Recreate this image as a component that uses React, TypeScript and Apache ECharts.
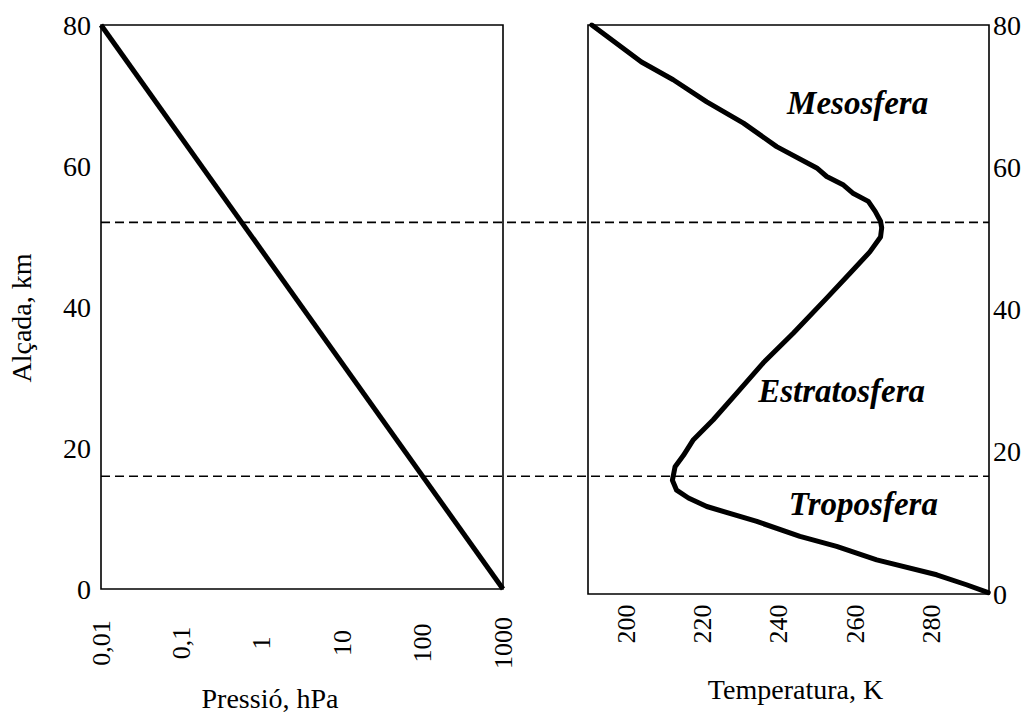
import React, { useEffect, useRef } from "react";
import * as echarts from "echarts";

// Pressure (hPa) vs altitude (km)
const pressureLine: [number, number][] = [
  [0.01, 80],
  [1000, 0],
];

// Temperature (K) vs altitude (km)
const temperatureProfile: [number, number][] = [
  [191, 80], [204, 74.8], [212.3, 72.3], [221.1, 69.2], [230.7, 66.2], [239.4, 62.9],
  [249.9, 59.9], [252.5, 58.7], [256.9, 57.5], [259.5, 56.3], [263.4, 55.2], [265.2, 53.8],
  [266.6, 52.4], [266.9, 51.5], [266.6, 50.2], [263.8, 48.1], [258.6, 45.1], [252.5, 41.6],
  [243.8, 36.7], [235.9, 32.5], [228.9, 28.2], [222.8, 24.5], [217.6, 21.7], [215, 19.5],
  [212.8, 17.9], [212.1, 16], [213.2, 14.6], [216.3, 13.5], [221.1, 12.3], [234.2, 10.2],
  [245.5, 8.1], [255.1, 6.7], [265.6, 4.8], [281.3, 2.7], [289.1, 1.3], [294.8, 0.2],
];

// Layer boundaries (km)
const boundaryAltitudes = [52.0, 16.0];

// Layer names and their anchor (T, altitude)
const layerNames = ["Mesosfera", "Estratosfera", "Troposfera"];
const layerAnchors: [number, number][] = [
  [260.6, 69.1],
  [256.4, 28.5],
  [262.1, 12.6],
];

const tempTicks = [200, 220, 240, 260, 280];
const altitudeMin = 0;
const altitudeMax = 80;
const altitudeStep = 20;
const pressureMin = 0.01;
const pressureMax = 1000;
const tempMin = 190;
const tempMax = 295;

const FONT = "'Liberation Serif', 'Times New Roman', 'DejaVu Serif', serif";

export default function App() {
  const ref = useRef<HTMLDivElement>(null);

  useEffect(() => {
    if (!ref.current) return;
    const chart = echarts.init(ref.current, undefined, { renderer: "svg" });

    const gridCommon = {
      show: true,
      borderColor: "#000",
      borderWidth: 1.6,
      backgroundColor: "transparent",
      containLabel: false,
    };

    const yAxisCommon = {
      type: "value" as const,
      min: altitudeMin,
      max: altitudeMax,
      interval: altitudeStep,
      splitLine: { show: false },
      axisTick: { show: false },
      axisLine: { show: false },
    };

    chart.setOption({
      animation: false,
      textStyle: { fontFamily: FONT, color: "#000" },
      grid: [
        { ...gridCommon, left: 101, right: 522, top: 25, bottom: 123 },
        { ...gridCommon, left: 588, right: 36, top: 25, bottom: 123 },
      ],
      xAxis: [
        {
          type: "log",
          gridIndex: 0,
          logBase: 10,
          min: pressureMin,
          max: pressureMax,
          splitLine: { show: false },
          axisTick: { show: false },
          axisLine: { show: false },
          axisLabel: {
            rotate: 90,
            align: "center",
            verticalAlign: "middle",
            margin: 54,
            fontSize: 26,
            fontFamily: FONT,
            color: "#000",
            formatter: (v: number) => String(Number(v.toPrecision(6))).replace(".", ","),
          },
          name: "Pressió, hPa",
          nameLocation: "middle",
          nameGap: 95,
          nameTextStyle: { fontSize: 28, fontFamily: FONT, color: "#000", padding: [0, 64, 0, 0] },
        },
        {
          type: "value",
          gridIndex: 1,
          min: tempMin,
          max: tempMax,
          splitLine: { show: false },
          axisTick: { show: false },
          axisLine: { show: false },
          axisLabel: {
            customValues: tempTicks,
            rotate: 90,
            align: "center",
            verticalAlign: "middle",
            margin: 30,
            fontSize: 26,
            fontFamily: FONT,
            color: "#000",
          },
          name: "Temperatura, K",
          nameLocation: "middle",
          nameGap: 81,
          nameTextStyle: { fontSize: 28, fontFamily: FONT, color: "#000", padding: [0, 0, 0, 14] },
        },
      ],
      yAxis: [
        {
          ...yAxisCommon,
          gridIndex: 0,
          position: "left",
          axisLabel: { margin: 10, fontSize: 28, fontFamily: FONT, color: "#000" },
          name: "Alçada, km",
          nameLocation: "middle",
          nameGap: 66,
          nameTextStyle: { fontSize: 28, fontFamily: FONT, color: "#000", padding: [0, 22, 0, 0] },
        },
        {
          ...yAxisCommon,
          gridIndex: 1,
          position: "right",
          axisLabel: { margin: 4, fontSize: 28, fontFamily: FONT, color: "#000" },
        },
      ],
      series: [
        {
          type: "line",
          xAxisIndex: 0,
          yAxisIndex: 0,
          data: pressureLine,
          showSymbol: false,
          symbol: "none",
          lineStyle: { color: "#000", width: 5 },
        },
        {
          type: "line",
          xAxisIndex: 1,
          yAxisIndex: 1,
          data: temperatureProfile,
          showSymbol: false,
          symbol: "none",
          lineStyle: { color: "#000", width: 5, join: "round", cap: "round" },
        },
      ],
    });

    const xLeft = chart.convertToPixel({ xAxisIndex: 0 }, pressureMin) as number;
    const xRight = chart.convertToPixel({ xAxisIndex: 1 }, tempMax) as number;
    const dashLines = boundaryAltitudes.map((alt) => {
      const y = chart.convertToPixel({ yAxisIndex: 0 }, alt) as number;
      return {
        type: "line",
        shape: { x1: xLeft, y1: y, x2: xRight, y2: y },
        style: { stroke: "#000", lineWidth: 1.6, lineDash: [9, 5] },
        z: 10,
      };
    });
    const labels = layerAnchors.map((p, i) => {
      const [x, y] = chart.convertToPixel({ xAxisIndex: 1, yAxisIndex: 1 }, p) as number[];
      return {
        type: "text",
        x,
        y,
        z: 10,
        style: {
          text: layerNames[i],
          fill: "#000",
          font: `italic bold 33px ${FONT}`,
          align: "center",
          verticalAlign: "middle",
        },
      };
    });
    chart.setOption({ graphic: [...dashLines, ...labels] });

    return () => chart.dispose();
  }, []);

  return (
    <div
      ref={ref}
      style={{ position: "fixed", left: 0, top: 0, width: 1025, height: 717, background: "#fff" }}
    />
  );
}
